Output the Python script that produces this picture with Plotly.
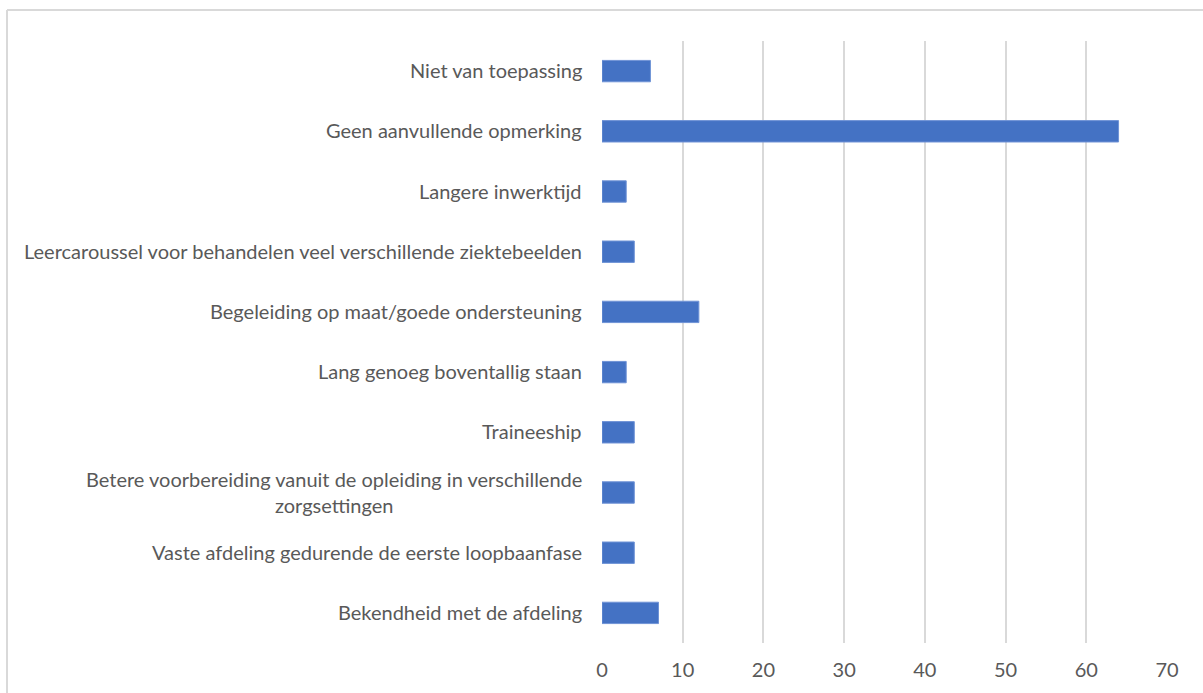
import plotly.graph_objects as go

# Answers, listed top to bottom as shown on the chart
categories = [
    "Niet van toepassing",
    "Geen aanvullende opmerking",
    "Langere inwerktijd",
    "Leercaroussel voor behandelen veel verschillende ziektebeelden",
    "Begeleiding op maat/goede ondersteuning",
    "Lang genoeg boventallig staan",
    "Traineeship",
    "Betere voorbereiding vanuit de opleiding in verschillende<br>zorgsettingen",
    "Vaste afdeling gedurende de eerste loopbaanfase",
    "Bekendheid met de afdeling",
]
counts = [6, 64, 3, 4, 12, 3, 4, 4, 4, 7]
x_ticks = [0, 10, 20, 30, 40, 50, 60, 70]

W, H = 1203, 693
L, R, T, B = 602, 36, 41, 48
FONT = "Lato"
FSIZE = 20
GREY = "#595959"

fig = go.Figure(
    go.Bar(
        x=counts,
        y=categories,
        orientation="h",
        marker=dict(color="#4472C4", line=dict(color="#6f93d6", width=1)),
        hoverinfo="x+y",
    )
)

# Category labels as annotations so the wrapped label is centred per line
for cat in categories:
    fig.add_annotation(
        x=0, y=cat, xref="x", yref="y",
        text=cat, showarrow=False,
        xanchor="right", yanchor="middle", align="center",
        xshift=-18, yshift=1,
        font=dict(family=FONT, size=FSIZE, color=GREY),
    )

# Outer chart border (light grey frame)
pw, ph = W - L - R, H - T - B
def px(xp):
    return (xp - L) / pw
def py(yp):
    return (H - B - yp) / ph

fig.add_shape(type="line", xref="paper", yref="paper",
              x0=px(7), x1=px(W + 5), y0=py(10), y1=py(10),
              line=dict(color="#d9d9d9", width=2))
fig.add_shape(type="line", xref="paper", yref="paper",
              x0=px(7), x1=px(7), y0=py(10), y1=py(H + 5),
              line=dict(color="#d9d9d9", width=2))

fig.update_layout(
    width=W, height=H,
    margin=dict(l=L, r=R, t=T, b=B),
    paper_bgcolor="white",
    plot_bgcolor="white",
    bargap=0.645,
    showlegend=False,
    font=dict(family=FONT, size=FSIZE, color=GREY),
    xaxis=dict(
        range=[0, 70],
        tickvals=x_ticks,
        ticktext=[str(v) for v in x_ticks],
        showgrid=True, gridcolor="#d9d9d9", gridwidth=1.5,
        zeroline=False, showline=False, ticks="",
        tickfont=dict(family=FONT, size=FSIZE, color=GREY),
        ticklabelstandoff=13,
    ),
    yaxis=dict(
        autorange="reversed",
        showticklabels=False, showgrid=False, zeroline=False,
        showline=False, ticks="",
    ),
)

fig.write_html("out.html")
